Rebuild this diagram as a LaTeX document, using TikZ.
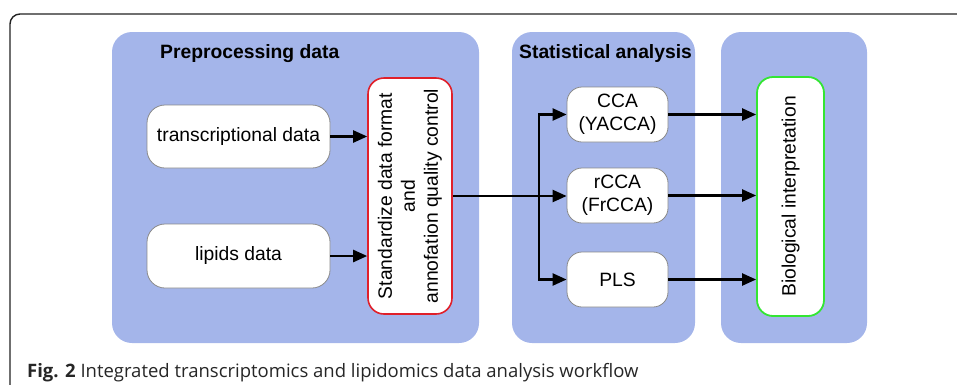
\documentclass[tikz,border=0pt]{standalone}
\usepackage{fontspec}
\setmainfont{Liberation Sans}
\newfontfamily\capfont{Open Sans}
\usetikzlibrary{arrows.meta,calc}
\definecolor{panelblue}{HTML}{A4B5EA}
\definecolor{boxgray}{HTML}{8A8A8A}
\definecolor{redline}{HTML}{E0202A}
\definecolor{greenline}{HTML}{33E633}
\definecolor{framegray}{HTML}{222222}
\begin{document}
\begin{tikzpicture}[x=1pt,y=-1pt,
  panel/.style={fill=panelblue,draw=none,rounded corners=20pt},
  wbox/.style={draw=boxgray,line width=0.8pt,fill=white,rounded corners=18pt,inner sep=0pt,align=center,font=\fontsize{19.3}{23}\selectfont},
  redbox/.style={draw=redline,line width=1.6pt,fill=white,rounded corners=16pt,inner sep=0pt},
  greenbox/.style={draw=greenline,line width=1.8pt,fill=white,rounded corners=16pt,inner sep=0pt},
  rtext/.style={rotate=90,align=center,inner sep=0pt,font=\fontsize{19.3}{23}\selectfont},
  ttl/.style={font=\fontsize{19.3}{23}\selectfont\bfseries,inner sep=0pt,anchor=base west},
  arr/.style={line width=2.3pt,-{Triangle[length=14pt,width=12pt]}},
  ln/.style={line width=2.3pt}]
\useasboundingbox (0,0) rectangle (957,384);
% outer frame
\draw[framegray,line width=1.4pt,rounded corners=10pt] (10,400) -- (10,14) -- (970,14);
% panels
\fill[panel] (112,32) rectangle (479,343);
\fill[panel] (512,32) rectangle (695,343);
\fill[panel] (721,32) rectangle (867,343);
\node[ttl] (t1) at (160,58) {Preprocessing data};
\node[ttl] (t2) at (519,58) {Statistical analysis};
% boxes
\node[wbox,minimum width=183pt,minimum height=63pt] (trans) at (238.5,136.5) {transcriptional data};
\node[wbox,minimum width=183pt,minimum height=64pt] (lip) at (238.5,256) {lipids data};
\node[redbox,minimum width=84pt,minimum height=236pt] (std) at (410,196) {};
\node[rtext] (stdt) at (std.center) {Standardize data format\\and\\annofation quality control};
\node[wbox,rounded corners=15pt,minimum width=101pt,minimum height=55pt] (cca) at (617.5,114.5) {CCA\\(YACCA)};
\node[wbox,rounded corners=15pt,minimum width=101pt,minimum height=55pt] (rcca) at (617.5,195.5) {rCCA\\(FrCCA)};
\node[wbox,rounded corners=15pt,minimum width=101pt,minimum height=55pt] (pls) at (617.5,279.5) {PLS};
\node[greenbox,minimum width=67pt,minimum height=239pt] (bio) at (790.5,196.5) {};
\node[rtext] (biot) at (bio.center) {Biological interpretation};
% connectors
\draw[arr] (trans.east) -- (trans.east -| std.west);
\draw[arr] (lip.east) -- (lip.east -| std.west);
\coordinate (j) at (539,196);
\draw[arr] (std.east |- j) -- (j -| rcca.west);
\draw[arr] (j) |- (cca.west);
\draw[arr] (j) |- (pls.west);
\draw[arr] (cca.east) -- (cca.east -| bio.west);
\draw[arr] (rcca.east) -- (rcca.east -| bio.west);
\draw[arr] (pls.east) -- (pls.east -| bio.west);
% caption
\node[anchor=base west,inner sep=0pt,text=black!85,font=\capfont\fontsize{18.5}{22}\selectfont] (cap) at (27,377) {\textbf{Fig. 2} Integrated transcriptomics and lipidomics data analysis workflow};
\end{tikzpicture}
\end{document}
